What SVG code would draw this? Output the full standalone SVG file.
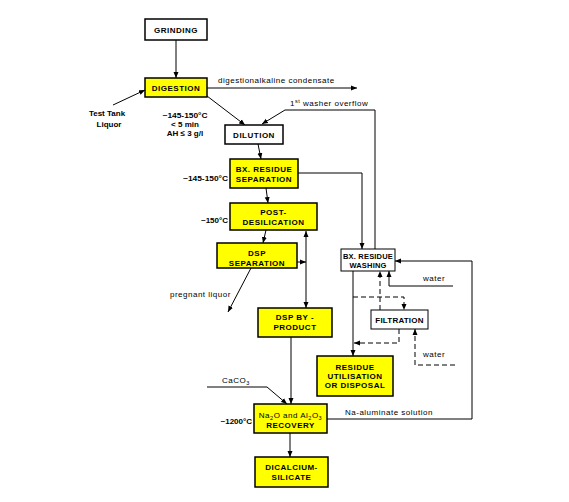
<svg xmlns="http://www.w3.org/2000/svg" width="569" height="502" viewBox="0 0 569 502">
<style>
.box{stroke:#000;stroke-width:1.5}
.y{fill:#ffff00}
.w{fill:#fff}
.bt{font-family:"Liberation Sans",Arial,sans-serif;font-size:8px;font-weight:bold;letter-spacing:0.5px;text-anchor:middle;fill:#000}
.lb{font-family:"Liberation Sans",Arial,sans-serif;font-size:8px;letter-spacing:0.5px;fill:#000}
.tb{font-family:"Liberation Sans",Arial,sans-serif;font-size:8px;font-weight:bold;fill:#000}
.c{fill:none;stroke:#000;stroke-width:1}
.d{stroke-dasharray:5,3}
</style>
<defs>
<marker id="a" markerWidth="6" markerHeight="6" refX="6" refY="3" orient="auto" markerUnits="userSpaceOnUse">
<path d="M0,0.5 L6,3 L0,5.5 z" fill="#000"/>
</marker>
<marker id="s" markerWidth="6" markerHeight="6" refX="0" refY="3" orient="auto" markerUnits="userSpaceOnUse">
<path d="M6,0.5 L0,3 L6,5.5 z" fill="#000"/>
</marker>
</defs>
<rect width="569" height="502" fill="#fff"/>
<g id="connectors">
<line class="c" x1="176" y1="40" x2="176" y2="78" marker-end="url(#a)"/>
<line class="c" x1="207" y1="88" x2="357" y2="88" marker-end="url(#a)"/>
<line class="c" x1="113" y1="105" x2="145" y2="90" marker-end="url(#a)"/>
<line class="c" x1="207" y1="96" x2="245" y2="125" marker-end="url(#a)"/>
<polyline class="c" points="375,249 375,110 285,110 262,124" marker-end="url(#a)"/>
<line class="c" x1="258" y1="144" x2="261" y2="159" marker-end="url(#a)"/>
<polyline class="c" points="298,173 362,173 362,249" marker-end="url(#a)"/>
<line class="c" x1="266" y1="188" x2="268" y2="203" marker-end="url(#a)"/>
<line class="c" x1="266" y1="230" x2="263" y2="243" marker-end="url(#a)"/>
<line class="c" x1="297" y1="262" x2="306" y2="262" marker-end="url(#a)"/>
<line class="c" x1="306" y1="231" x2="306" y2="308" marker-start="url(#s)" marker-end="url(#a)"/>
<line class="c" x1="251" y1="268" x2="228" y2="312" marker-end="url(#a)"/>
<line class="c" x1="291" y1="337" x2="291" y2="404" marker-end="url(#a)"/>
<polyline class="c" points="207,387 267,387 287,404" marker-end="url(#a)"/>
<line class="c" x1="290" y1="433" x2="290" y2="457" marker-end="url(#a)"/>
<polyline class="c" points="327,419 472,419 472,261 395,261" marker-end="url(#a)"/>
<line class="c" x1="353" y1="271" x2="353" y2="356" marker-end="url(#a)"/>
<polyline class="c d" points="353,297 404,297 404,310" marker-end="url(#a)"/>
<line class="c d" x1="380" y1="310" x2="380" y2="271" marker-end="url(#a)"/>
<polyline class="c d" points="399,329 399,343 354,343" marker-end="url(#a)"/>
<polyline class="c d" points="455,365 415,365 415,329" marker-end="url(#a)"/>
<polyline class="c" points="453,286 389,286 389,271" marker-end="url(#a)"/>
</g>
<g id="grinding">
<rect class="box w" x="145" y="19" width="62" height="21"/>
<text class="bt" x="176" y="32.5">GRINDING</text>
</g>
<g id="digestion">
<rect class="box y" x="145" y="78" width="62" height="19"/>
<text class="bt" x="176" y="90.5">DIGESTION</text>
</g>
<g id="dilution">
<rect class="box w" x="225" y="125" width="58" height="19"/>
<text class="bt" x="254" y="137.5">DILUTION</text>
</g>
<g id="bx-separation">
<rect class="box y" x="230" y="159" width="68" height="29"/>
<text class="bt" x="264" y="172">BX. RESIDUE</text>
<text class="bt" x="264" y="182">SEPARATION</text>
</g>
<g id="post-desilication">
<rect class="box y" x="230" y="203" width="87" height="27"/>
<text class="bt" x="273.5" y="215">POST-</text>
<text class="bt" x="273.5" y="225">DESILICATION</text>
</g>
<g id="dsp-separation">
<rect class="box y" x="217" y="243" width="80" height="25"/>
<text class="bt" x="257" y="256">DSP</text>
<text class="bt" x="257" y="266">SEPARATION</text>
</g>
<g id="dsp-byproduct">
<rect class="box y" x="258" y="308" width="74" height="29"/>
<text class="bt" x="295" y="320">DSP BY -</text>
<text class="bt" x="295" y="330">PRODUCT</text>
</g>
<g id="recovery">
<rect class="box y" x="254" y="404" width="73" height="29"/>
<text class="bt" x="290.5" y="418" style="font-weight:normal">Na<tspan font-size="5.5" dy="2">2</tspan><tspan dy="-2">O and Al</tspan><tspan font-size="5.5" dy="2">2</tspan><tspan dy="-2">O</tspan><tspan font-size="5.5" dy="2">3</tspan></text>
<text class="bt" x="290.5" y="428">RECOVERY</text>
</g>
<g id="dicalcium">
<rect class="box y" x="255" y="457" width="73" height="30"/>
<text class="bt" x="291.5" y="470">DICALCIUM-</text>
<text class="bt" x="291.5" y="480">SILICATE</text>
</g>
<g id="residue">
<rect class="box y" x="317" y="356" width="76" height="40"/>
<text class="bt" x="355" y="370">RESIDUE</text>
<text class="bt" x="355" y="379">UTILISATION</text>
<text class="bt" x="355" y="388">OR DISPOSAL</text>
</g>
<g id="washing">
<rect class="box w" x="341" y="249" width="54" height="22" style="stroke-width:1"/>
<text class="bt" x="368" y="259" style="font-size:7.5px;letter-spacing:0.2px">BX. RESIDUE</text>
<text class="bt" x="368" y="268" style="font-size:7.5px;letter-spacing:0.2px">WASHING</text>
</g>
<g id="filtration">
<rect class="box w" x="371" y="310" width="57" height="19" style="stroke-width:1"/>
<text class="bt" x="399.5" y="322.5" style="letter-spacing:0.2px">FILTRATION</text>
</g>
<g id="labels">
<text class="lb" x="218" y="83">digestionalkaline condensate</text>
<text class="tb" x="107" y="116" text-anchor="middle">Test Tank</text>
<text class="tb" x="109" y="127" text-anchor="middle">Liquor</text>
<text class="tb" x="185" y="118" text-anchor="middle" textLength="45" lengthAdjust="spacingAndGlyphs">~145-150°C</text>
<text class="tb" x="185" y="127" text-anchor="middle">&lt; 5 min</text>
<text class="tb" x="185" y="136" text-anchor="middle">AH ≤ 3 g/l</text>
<text class="lb" x="290" y="106">1<tspan font-size="5.5" dy="-3">st</tspan><tspan dy="3"> washer overflow</tspan></text>
<text class="tb" x="183" y="181" textLength="45" lengthAdjust="spacingAndGlyphs">~145-150°C</text>
<text class="tb" x="228" y="223" text-anchor="end">~150°C</text>
<text class="lb" x="170" y="297">pregnant liquor</text>
<text class="lb" x="222" y="383">CaCO<tspan font-size="5.5" dy="2">3</tspan></text>
<text class="tb" x="252" y="424" text-anchor="end">~1200°C</text>
<text class="lb" x="345" y="415">Na-aluminate solution</text>
<text class="lb" x="423" y="281">water</text>
<text class="lb" x="423" y="357">water</text>
</g>
</svg>
